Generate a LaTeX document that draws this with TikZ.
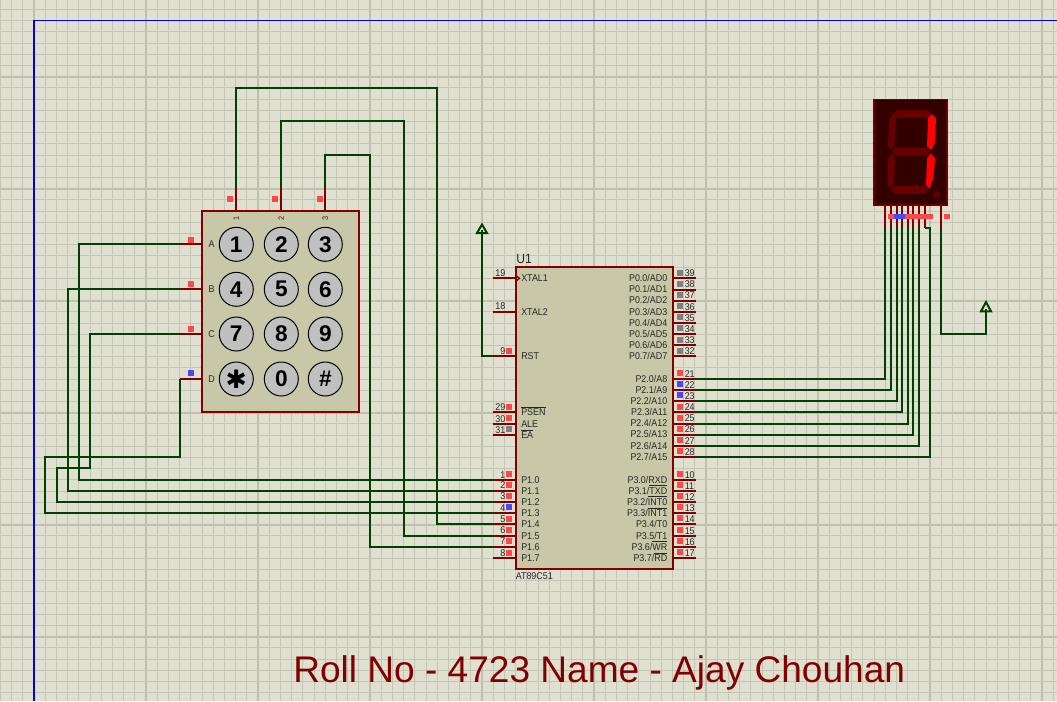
\documentclass[tikz,border=0pt]{standalone}
\usepackage{fontspec}
\setmainfont{Liberation Sans}
\newfontfamily\symfont{DejaVu Sans}
\newfontfamily\lblfont[FakeStretch=0.91]{Liberation Sans}
\definecolor{sheet}{HTML}{DFE0CF}
\definecolor{minorg}{HTML}{C4C5B6}
\definecolor{majorg}{HTML}{BFC0B0}
\definecolor{body}{HTML}{C8C8A8}
\definecolor{pinred}{HTML}{800000}
\definecolor{wiregreen}{HTML}{004000}
\definecolor{mred}{HTML}{FF4848}
\definecolor{mblue}{HTML}{4848FF}
\definecolor{mgrey}{HTML}{808080}
\definecolor{segdim}{HTML}{660000}
\definecolor{dispbg}{HTML}{330000}
\definecolor{dispedge}{HTML}{6E0000}
\definecolor{btn}{HTML}{C0C0C0}
\tikzset{
 x=0.75pt,y=-0.75pt,
 wire/.style={draw=wiregreen,line width=1.5pt,line join=miter},
 pinline/.style={draw=pinred,line width=1.5pt},
 bodybox/.style={draw=pinred,fill=body,line width=1.5pt,inner sep=0pt,minimum width=0pt},
 keybtn/.style={circle,draw=black,fill=btn,line width=0.75pt,minimum size=25.5pt,inner sep=0pt,font=\bfseries\fontsize{17}{17}\selectfont},
 lbl/.style={inner sep=0pt,text=black!85,font=\lblfont\fontsize{7.35}{8}\selectfont},
 lbll/.style={lbl,anchor=base west},
 lblr/.style={lbl,anchor=base east},
 mk/.style={rectangle,inner sep=0pt,minimum size=4.5pt},
 seg/.style={fill=segdim},
 segon/.style={fill=red},
 term/.style={draw=wiregreen,fill=sheet,line width=1.5pt,line join=miter},
}
\newcommand{\ov}[1]{$\overline{\hbox{#1}}$}
\begin{document}
\begin{tikzpicture}
\useasboundingbox (0,0) rectangle (1057,701);
\fill[sheet] (0,0) rectangle (1057,701);
% grid
\foreach \i in {-3,...,91}{\draw[minorg,line width=0.75pt] ({34+11.2*\i},0) -- ({34+11.2*\i},701);}
\foreach \i in {-7,...,56}{\draw[minorg,line width=0.75pt] (0,{76.7+11.2*\i}) -- (1057,{76.7+11.2*\i});}
\foreach \i in {0,...,9}{\draw[majorg,line width=1.5pt] ({34+112*\i},0) -- ({34+112*\i},701);}
\foreach \i in {0,...,5}{\draw[majorg,line width=1.5pt] (0,{76.7+112*\i}) -- (1057,{76.7+112*\i});}
\draw[blue!90!black,line width=0.9pt] (1057,20.6) -- (34,20.6) -- (34,701);
% keypad
\node[bodybox,minimum width=117.75pt,minimum height=150.5pt] (kp) at (280.5,311.3) {};
\foreach \n/\x in {1/236.3,2/281.3,3/325.3}{
 \coordinate (kc\n) at (\x,188);
 \draw[pinline] (kc\n) -- (\x,211);
 \node[lbl,rotate=90] (kcl\n) at (\x,218.5) {\fontsize{6}{6}\selectfont\n};
}
\foreach \n/\y in {A/244.3,B/289.3,C/334,D/379}{
 \coordinate (kr\n) at (180,\y);
 \draw[pinline] (kr\n) -- (202,\y);
 \node[lbl] (krl\n) at (211.5,\y) {\n};
}
\node[keybtn] (b1) at (236.3,244.3) {1};
\node[keybtn] (b2) at (281.3,244.3) {2};
\node[keybtn] (b3) at (325.3,244.3) {3};
\node[keybtn] (b4) at (236.3,289.3) {4};
\node[keybtn] (b5) at (281.3,289.3) {5};
\node[keybtn] (b6) at (325.3,289.3) {6};
\node[keybtn] (b7) at (236.3,334) {7};
\node[keybtn] (b8) at (281.3,334) {8};
\node[keybtn] (b9) at (325.3,334) {9};
\node[keybtn,font=\symfont\fontsize{19}{19}\selectfont] (bs) at (236.3,379) {✱};
\node[keybtn] (b0) at (281.3,379) {0};
\node[keybtn] (bh) at (325.3,379) {\#};
\foreach \n/\x/\y/\c in {a/230/199/mred,b/275/199/mred,c/320/199/mred,d/191/240/mred,e/191/284/mred,f/191/329/mred,g/191/373/mblue}{
 \node[mk,fill=\c] (km\n) at (\x,\y) {};
}
% chip
\node[bodybox,minimum width=117.5pt,minimum height=226.3pt] (u1) at (594.3,418.2) {};
\node[inner sep=0pt,anchor=base west,text=black!85,font=\lblfont\fontsize{10}{11}\selectfont] (u1ref) at (516,263.5) {U1};
\node[lbl,anchor=base west] (u1val) at (515.5,579) {AT89C51};
% left pins
\foreach \n/\y/\t in {19/278.3/XTAL1,18/311.7/XTAL2,9/356/RST,29/412.3/\ov{PSEN},30/424/ALE,31/435/\ov{EA},1/479.8/P1.0,2/490.6/P1.1,3/501.7/P1.2,4/513/P1.3,5/524/P1.4,6/535.7/P1.5,7/546.7/P1.6,8/558/P1.7}{
 \coordinate (lp\n) at (492.7,\y);
 \draw[pinline] (lp\n) -- (516,\y);
 \node[lblr] (ln\n) at (505.5,{\y-1.8}) {\n};
 \node[lbll] (lt\n) at (521,{\y+3.4}) {\t};
}
% xtal clock mark
\draw[pinline,line width=1pt] (516,275.5) -- (519.5,278.3) -- (516,281);
% right pins
\foreach \n/\y/\t in {39/278.3/P0.0\slash AD0,38/289.5/P0.1\slash AD1,37/300.5/P0.2\slash AD2,36/312/P0.3\slash AD3,35/323/P0.4\slash AD4,34/334/P0.5\slash AD5,33/345/P0.6\slash AD6,32/355.7/P0.7\slash AD7,21/379/P2.0\slash A8,22/390/P2.1\slash A9,23/401/P2.2\slash A10,24/412/P2.3\slash A11,25/423.5/P2.4\slash A12,26/434.5/P2.5\slash A13,27/446/P2.6\slash A14,28/457/P2.7\slash A15,10/479.8/P3.0\slash RXD,11/490.6/P3.1\slash \ov{TXD},12/501.7/P3.2\slash \ov{INT0},13/513/P3.3\slash \ov{INT1},14/524/P3.4\slash T0,15/535.7/P3.5\slash T1,16/546.7/P3.6\slash \ov{WR},17/558/P3.7\slash \ov{RD}}{
 \coordinate (rp\n) at (695.5,\y);
 \draw[pinline] (673,\y) -- (rp\n);
 \node[lbll] (rn\n) at (684.5,{\y-1.6}) {\n};
 \node[lblr] (rt\n) at (667.5,{\y+3.4}) {\t};
}
\foreach \y [count=\k] in {272.5,284,295,306,317,328,340,351}{\node[mk,fill=mgrey] (mg\k) at (680,\y) {};}
\foreach \y/\c [count=\k] in {373/mred,384/mblue,395/mblue,407/mred,418/mred,429/mred,440/mred,451/mred,474/mred,485/mred,496/mred,507/mred,518/mred,530/mred,541/mred,552/mred}{\node[mk,fill=\c] (mr\k) at (680,\y) {};}
\foreach \y/\c [count=\k] in {351/mred,407/mred,418/mred,429/mgrey,474/mred,485/mred,496/mred,507/mblue,519/mred,530/mred,541/mred,552.5/mred}{\node[mk,fill=\c] (ml\k) at (508.5,\y) {};}
% display
\node[draw=dispedge,fill=dispbg,line width=1.1pt,inner sep=0pt,minimum width=54.6pt,minimum height=79.15pt] (disp) at (910.5,152.2) {};
\begin{scope}[shift={(860,90)},x=0.25pt,y=-0.25pt]
\fill[seg] (98,72)--(112,60)--(205,60)--(215,72)--(205,83)--(112,83)--cycle;
\fill[seg] (100,68)--(108,80)--(106,130)--(104,165)--(94,180)--(84,168)--(88,85)--cycle;
\fill[seg] (95,185)--(108,173)--(200,173)--(212,185)--(200,197)--(108,197)--cycle;
\fill[seg] (95,190)--(105,205)--(102,285)--(92,297)--(82,285)--(85,205)--cycle;
\fill[seg] (93,297)--(105,288)--(195,288)--(205,300)--(195,312)--(105,312)--cycle;
\fill[seg] (230,313) circle (10);
\fill[segon] (216,72)--(228,85)--(226,128)--(224,160)--(214,180)--(201,170)--(204,85)--cycle;
\fill[segon] (212,190)--(225,205)--(220,265)--(208,297)--(198,285)--(201,205)--cycle;
\end{scope}
\foreach \n/\x in {1/885,2/891,3/896.6,4/902.2,5/907.8,6/913.4,7/919,8/925,9/941}{
 \coordinate (dp\n) at (\x,228);
 \draw[pinline] (\x,206) -- (dp\n);
}
\node[rectangle,inner sep=0pt,minimum width=33.75pt,minimum height=3.75pt,fill=mred] (ds1) at (910.5,216.5) {};
\node[rectangle,inner sep=0pt,minimum width=8.25pt,minimum height=3.75pt,fill=mblue] (ds2) at (899.5,216.5) {};
\node[rectangle,inner sep=0pt,minimum width=4.5pt,minimum height=3.75pt,fill=mred] (ds3) at (947,216.5) {};
% terminals
\coordinate (t1) at (482,230);
\coordinate (t2) at (986,308.5);
\draw[term] (477,233) -- (482,224.5) -- (487,233) -- cycle;
\draw[term] (981,311.3) -- (986,302) -- (991,311.3) -- cycle;
% wires
\draw[wire] (kc1) |- (437,88) |- (lp5);
\draw[wire] (kc2) |- (404,121) |- (lp6);
\draw[wire] (kc3) |- (370,155) |- (lp7);
\draw[wire] (krA) -| (79,479.8) -- (lp1);
\draw[wire] (krB) -| (68,490.6) -- (lp2);
\draw[wire] (krC) -| (90,467.7) -| (56.7,501.7) -- (lp3);
\draw[wire] (krD) -| (180,456.7) -| (45,513) -- (lp4);
\draw[wire] (lp9) -| (t1);
\draw[wire] (rp21) -| (dp1);
\draw[wire] (rp22) -| (dp2);
\draw[wire] (rp23) -| (dp3);
\draw[wire] (rp24) -| (dp4);
\draw[wire] (rp25) -| (dp5);
\draw[wire] (rp26) -| (dp6);
\draw[wire] (rp27) -| (dp7);
\draw[wire] (rp28) -| (930,228) -- (dp8);
\draw[wire] (dp9) |- (986,333.5) -- (t2);
% title
\node[inner sep=0pt,anchor=base west,text=pinred,font=\fontsize{27.8}{30}\selectfont] (title) at (293,682.5) {Roll No - 4723 Name - Ajay Chouhan};
\end{tikzpicture}
\end{document}
